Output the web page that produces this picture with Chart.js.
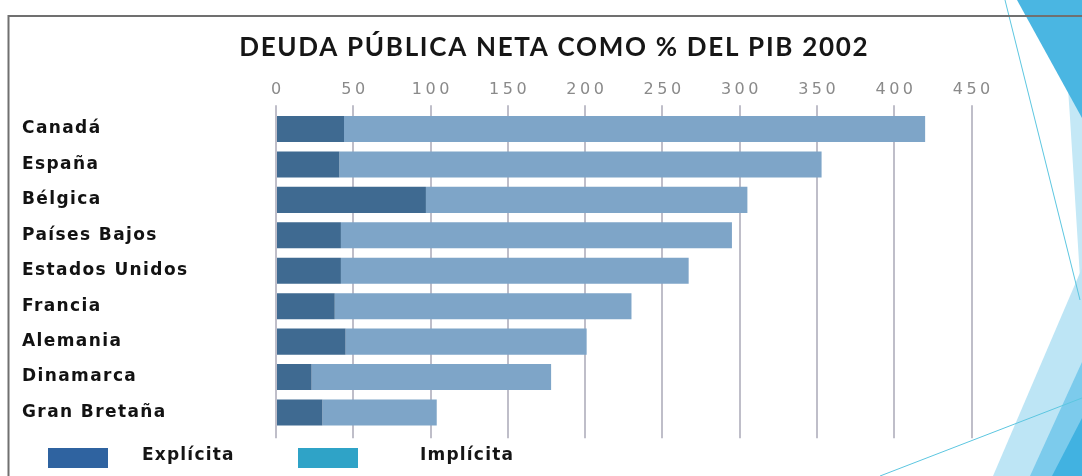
<!DOCTYPE html>
<html><head><meta charset="utf-8">
<script src="https://cdn.jsdelivr.net/npm/chart.js@4.4.1/dist/chart.umd.min.js"></script>
<style>html,body{margin:0;padding:0;background:#fff;overflow:hidden}</style>
</head><body>
<canvas id="c" width="1082" height="476"></canvas>
<script>
const categories = ['Canadá','España','Bélgica','Países Bajos','Estados Unidos','Francia','Alemania','Dinamarca','Gran Bretaña'];
const explicita = [44, 41, 97, 42, 42, 38, 45, 23, 30];
const implicita = [376, 312, 208, 253, 225, 192, 156, 155, 74];
const xTicks = [0, 50, 100, 150, 200, 250, 300, 350, 400, 450];
const seriesNames = ['Explícita', 'Implícita'];
const titleText = 'DEUDA PÚBLICA NETA COMO % DEL PIB 2002';

const barColors = ['#3f6a91', '#7ea5c8'];
const legendColors = ['#2f63a0', '#2fa3c7'];
const gridColor = '#bfbec9';

function spaced(obj, method, spacing, dx) {
  if (!obj || obj['_sp_' + method]) return;
  const orig = obj[method].bind(obj);
  obj[method] = function () {
    const ctx = obj.ctx;
    ctx.save();
    ctx.letterSpacing = spacing;
    ctx.translate(dx || 0, 0);
    const r = orig.apply(null, arguments);
    ctx.restore();
    return r;
  };
  obj['_sp_' + method] = true;
}

const decor = {
  id: 'decor',
  beforeDraw(chart) {
    const ctx = chart.ctx;
    ctx.save();
    ctx.fillStyle = '#ffffff';
    ctx.fillRect(0, 0, 1082, 476);
    const poly = (pts, col) => { ctx.beginPath(); ctx.moveTo(pts[0][0], pts[0][1]); for (let i = 1; i < pts.length; i++) ctx.lineTo(pts[i][0], pts[i][1]); ctx.closePath(); ctx.fillStyle = col; ctx.fill(); };
    poly([[1062, 0], [1082, 0], [1082, 310], [1070, 118]], '#c4e8f6');
    poly([[1017, 0], [1082, 0], [1082, 118]], '#4ab6e2');
    poly([[1082, 268], [1082, 476], [993, 476]], '#bde5f5');
    poly([[1082, 362], [1082, 476], [1030, 476]], '#7ccbec');
    poly([[1082, 418], [1082, 476], [1052, 476]], '#41b2e1');
    ctx.strokeStyle = '#5cc6e0';
    ctx.lineWidth = 1;
    ctx.beginPath(); ctx.moveTo(1005, 0); ctx.lineTo(1080, 300); ctx.stroke();
    ctx.beginPath(); ctx.moveTo(880, 476); ctx.lineTo(1082, 398); ctx.stroke();
    ctx.restore();
    spaced(chart.scales.y, 'drawLabels', '1.4px', 0);
    spaced(chart.scales.x, 'drawLabels', '3.5px', 1.75);
    spaced(chart.titleBlock, 'draw', '1.7px', 57.5);
  },
  afterDraw(chart) {
    const ctx = chart.ctx;
    ctx.save();
    ctx.strokeStyle = '#707070';
    ctx.lineWidth = 2;
    ctx.beginPath(); ctx.moveTo(1082, 16); ctx.lineTo(8.5, 16); ctx.lineTo(8.5, 476); ctx.stroke();
    const boxX = [48, 298], textX = [142, 420];
    ctx.font = 'bold 17px "DejaVu Sans"';
    ctx.letterSpacing = '1.2px';
    ctx.textBaseline = 'middle';
    ctx.textAlign = 'left';
    chart.data.datasets.forEach((ds, i) => {
      ctx.fillStyle = legendColors[i];
      ctx.fillRect(boxX[i], 448, 60, 20);
      ctx.fillStyle = '#151515';
      ctx.fillText(ds.label, textX[i], 456);
    });
    ctx.restore();
  }
};

const fixTicks = s => { s.ticks = xTicks.map(v => ({ value: v })); };

new Chart(document.getElementById('c'), {
  type: 'bar',
  data: {
    labels: categories,
    datasets: [
      { label: seriesNames[0], data: explicita, backgroundColor: barColors[0], borderWidth: 0 },
      { label: seriesNames[1], data: implicita, backgroundColor: barColors[1], borderWidth: 0 }
    ]
  },
  options: {
    indexAxis: 'y',
    responsive: false,
    devicePixelRatio: 1,
    animation: false,
    layout: { padding: { left: 22, right: 110.5, top: 0, bottom: 37.8 } },
    datasets: { bar: { barPercentage: 0.735, categoryPercentage: 1 } },
    scales: {
      x: {
        type: 'linear', position: 'top', stacked: true, min: 0, max: 450,
        afterBuildTicks: fixTicks,
        afterFit: s => { s.height = 48.1; },
        ticks: { font: { family: 'DejaVu Sans', size: 16 }, color: '#8a8a8a', padding: 6 },
        grid: { color: gridColor, lineWidth: 2, tickLength: 6, drawTicks: true },
        border: { display: false }
      },
      x2: {
        type: 'linear', axis: 'x', position: 'bottom', min: 0, max: 450,
        afterBuildTicks: fixTicks,
        afterFit: s => { s.height = 8; },
        ticks: { display: false },
        grid: { color: gridColor, lineWidth: 2, tickLength: 8, drawOnChartArea: false },
        border: { display: false }
      },
      y: {
        type: 'category', stacked: true,
        afterFit: s => { s.width = 254; },
        ticks: { font: { family: 'DejaVu Sans', size: 17, weight: 'bold' }, color: '#121212', crossAlign: 'far', padding: 0 },
        grid: { display: false },
        border: { display: false }
      }
    },
    plugins: {
      legend: { display: false },
      tooltip: { enabled: false },
      title: {
        display: true, text: titleText, color: '#161616',
        font: { family: 'Lato', size: 26, weight: 'bold', lineHeight: 1.2 },
        padding: { top: 32, bottom: 0 }
      }
    }
  },
  plugins: [decor]
});
</script>
</body></html>
